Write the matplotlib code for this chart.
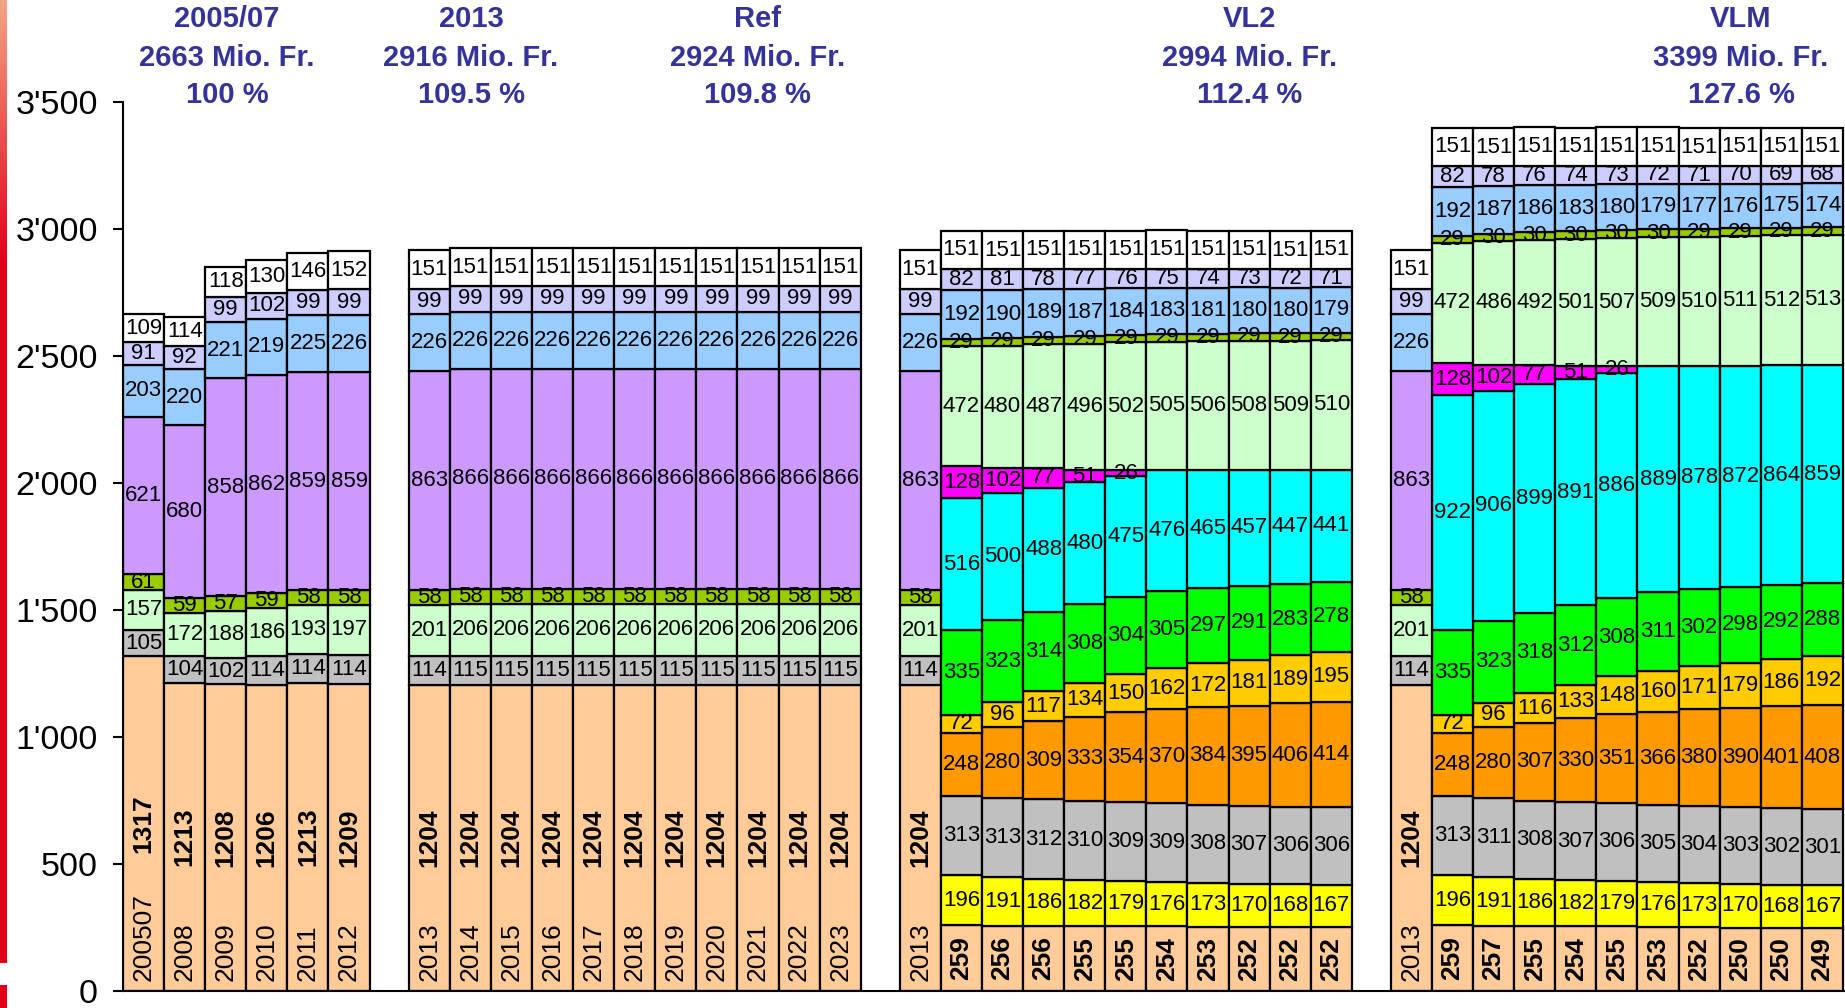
import matplotlib
matplotlib.use("Agg")
import matplotlib.pyplot as plt
import numpy as np

plt.rcParams["font.family"] = ["Liberation Sans", "DejaVu Sans"]

# stack order, bottom -> top
SERIES = ["peach", "yellow", "gray", "orange", "gold", "green", "cyan",
          "magenta", "lgreen", "olive", "purple", "lblue", "lavender", "white"]
COLORS = {
    "peach": "#FFCC99", "yellow": "#FFFF00", "gray": "#C0C0C0",
    "orange": "#FF9900", "gold": "#FFCC00", "green": "#00FF00",
    "cyan": "#00FFFF", "magenta": "#FF00FF", "lgreen": "#CCFFCC",
    "olive": "#99CC00", "purple": "#CC99FF", "lblue": "#99CCFF",
    "lavender": "#CCCCFF", "white": "#FFFFFF",
}

# --- 2005/07 .. 2012 ---
hist_years = ["200507", "2008", "2009", "2010", "2011", "2012"]
hist_peach = [1317, 1213, 1208, 1206, 1213, 1209]
hist_gray = [105, 104, 102, 114, 114, 114]
hist_lgreen = [157, 172, 188, 186, 193, 197]
hist_olive = [61, 59, 57, 59, 58, 58]
hist_purple = [621, 680, 858, 862, 859, 859]
hist_lblue = [203, 220, 221, 219, 225, 226]
hist_lavender = [91, 92, 99, 102, 99, 99]
hist_white = [109, 114, 118, 130, 146, 152]

# --- 2013 + Ref 2014 .. 2023 ---
ref_years = ["2013", "2014", "2015", "2016", "2017", "2018", "2019",
             "2020", "2021", "2022", "2023"]
ref_peach = [1204, 1204, 1204, 1204, 1204, 1204, 1204, 1204, 1204, 1204, 1204]
ref_gray = [114, 115, 115, 115, 115, 115, 115, 115, 115, 115, 115]
ref_lgreen = [201, 206, 206, 206, 206, 206, 206, 206, 206, 206, 206]
ref_olive = [58, 58, 58, 58, 58, 58, 58, 58, 58, 58, 58]
ref_purple = [863, 866, 866, 866, 866, 866, 866, 866, 866, 866, 866]
ref_lblue = [226, 226, 226, 226, 226, 226, 226, 226, 226, 226, 226]
ref_lavender = [99, 99, 99, 99, 99, 99, 99, 99, 99, 99, 99]
ref_white = [151, 151, 151, 151, 151, 151, 151, 151, 151, 151, 151]

# --- VL2 2014 .. 2023 ---
vl2_peach = [259, 256, 256, 255, 255, 254, 253, 252, 252, 252]
vl2_yellow = [196, 191, 186, 182, 179, 176, 173, 170, 168, 167]
vl2_gray = [313, 313, 312, 310, 309, 309, 308, 307, 306, 306]
vl2_orange = [248, 280, 309, 333, 354, 370, 384, 395, 406, 414]
vl2_gold = [72, 96, 117, 134, 150, 162, 172, 181, 189, 195]
vl2_green = [335, 323, 314, 308, 304, 305, 297, 291, 283, 278]
vl2_cyan = [516, 500, 488, 480, 475, 476, 465, 457, 447, 441]
vl2_magenta = [128, 102, 77, 51, 26, 0, 0, 0, 0, 0]
vl2_lgreen = [472, 480, 487, 496, 502, 505, 506, 508, 509, 510]
vl2_olive = [29, 29, 29, 29, 29, 29, 29, 29, 29, 29]
vl2_lblue = [192, 190, 189, 187, 184, 183, 181, 180, 180, 179]
vl2_lavender = [82, 81, 78, 77, 76, 75, 74, 73, 72, 71]
vl2_white = [151, 151, 151, 151, 151, 151, 151, 151, 151, 151]

# --- VLM 2014 .. 2023 ---
vlm_peach = [259, 257, 255, 254, 255, 253, 252, 250, 250, 249]
vlm_yellow = [196, 191, 186, 182, 179, 176, 173, 170, 168, 167]
vlm_gray = [313, 311, 308, 307, 306, 305, 304, 303, 302, 301]
vlm_orange = [248, 280, 307, 330, 351, 366, 380, 390, 401, 408]
vlm_gold = [72, 96, 116, 133, 148, 160, 171, 179, 186, 192]
vlm_green = [335, 323, 318, 312, 308, 311, 302, 298, 292, 288]
vlm_cyan = [922, 906, 899, 891, 886, 889, 878, 872, 864, 859]
vlm_magenta = [128, 102, 77, 51, 26, 0, 0, 0, 0, 0]
vlm_lgreen = [472, 486, 492, 501, 507, 509, 510, 511, 512, 513]
vlm_olive = [29, 30, 30, 30, 30, 30, 29, 29, 29, 29]
vlm_lblue = [192, 187, 186, 183, 180, 179, 177, 176, 175, 174]
vlm_lavender = [82, 78, 76, 74, 73, 72, 71, 70, 69, 68]
vlm_white = [151, 151, 151, 151, 151, 151, 151, 151, 151, 151]

group_names = ["2005/07", "2013", "Ref", "VL2", "VLM"]
group_totals = ["2663", "2916", "2924", "2994", "3399"]
group_pcts = ["100", "109.5", "109.8", "112.4", "127.6"]

hist = dict(peach=hist_peach, gray=hist_gray, lgreen=hist_lgreen,
            olive=hist_olive, purple=hist_purple, lblue=hist_lblue,
            lavender=hist_lavender, white=hist_white)
ref = dict(peach=ref_peach, gray=ref_gray, lgreen=ref_lgreen,
           olive=ref_olive, purple=ref_purple, lblue=ref_lblue,
           lavender=ref_lavender, white=ref_white)
vl2 = dict(peach=vl2_peach, yellow=vl2_yellow, gray=vl2_gray,
           orange=vl2_orange, gold=vl2_gold, green=vl2_green,
           cyan=vl2_cyan, magenta=vl2_magenta, lgreen=vl2_lgreen,
           olive=vl2_olive, lblue=vl2_lblue, lavender=vl2_lavender,
           white=vl2_white)
vlm = dict(peach=vlm_peach, yellow=vlm_yellow, gray=vlm_gray,
           orange=vlm_orange, gold=vlm_gold, green=vlm_green,
           cyan=vlm_cyan, magenta=vlm_magenta, lgreen=vlm_lgreen,
           olive=vlm_olive, lblue=vlm_lblue, lavender=vlm_lavender,
           white=vlm_white)

GAP = 0.95
bars = []  # (x_left, {series: value}, year label or None)


def add_bars(x0, cols, years):
    n = len(cols["peach"])
    for i in range(n):
        vals = {k: v[i] for k, v in cols.items()}
        bars.append((x0 + i, vals, years[i] if years else None))
    return x0 + n


def ref_2013():
    return {k: [v[0]] for k, v in ref.items()}


x = add_bars(0, hist, hist_years)
x = add_bars(x + GAP, ref, ref_years)
x = add_bars(x + GAP, ref_2013(), ["2013"])
x = add_bars(x, vl2, None)
x = add_bars(x + GAP, ref_2013(), ["2013"])
x_end = add_bars(x, vlm, None)

W, H = 1845, 1008
fig = plt.figure(figsize=(W / 100, H / 100), dpi=100)
ax = fig.add_axes([123 / W, 17 / H, 1722 / W, 889 / H])

xc = np.array([b[0] + 0.5 for b in bars])
bottom = np.zeros(len(bars))
for s in SERIES:
    h = np.array([b[1].get(s, 0) for b in bars], dtype=float)
    m = h > 0
    if m.any():
        ax.bar(xc[m], h[m], bottom=bottom[m], width=1.0, color=COLORS[s],
               edgecolor="black", linewidth=1.6, zorder=2)
    for i in np.where(m)[0]:
        yc = bottom[i] + h[i] / 2
        if s == "peach":
            ax.text(xc[i], yc, str(int(h[i])), rotation=90, ha="center",
                    va="center", fontsize=19, fontweight="bold", zorder=3)
        else:
            ax.text(xc[i], yc, str(int(h[i])), ha="center", va="center",
                    fontsize=16, zorder=3)
    bottom += h

for i, b in enumerate(bars):
    if b[2]:
        ax.text(xc[i], 40, b[2], rotation=90, ha="center", va="bottom",
                fontsize=19, zorder=3)

# group headers
title_x = [2.53, 8.47, 15.43, 27.42, 39.37]
for tx, name, tot, pct in zip(title_x, group_names, group_totals, group_pcts):
    for ty, txt in [(3828, name), (3674, f"{tot} Mio. Fr."), (3528, f"{pct} %")]:
        ax.text(tx, ty, txt, ha="center", va="center", fontsize=21,
                fontweight="bold", color="#333399", clip_on=False)

ax.set_xlim(0, 41.9)
ax.set_ylim(0, 3500)
ax.set_xticks([])
yt = list(range(0, 3501, 500))
ax.set_yticks(yt)
ax.set_yticklabels([f"{v:,}".replace(",", "'") for v in yt])
ax.tick_params(axis="y", length=7, width=1.5, pad=11, labelsize=24.5)
for sp in ["top", "right"]:
    ax.spines[sp].set_visible(False)
ax.spines["left"].set_linewidth(1.5)
ax.spines["bottom"].set_linewidth(1.5)

# red strip on left edge
strip = fig.add_axes([0, 0, 7 / W, 1])
rows = np.arange(H)
top_col = np.array([0.95, 0.65, 0.52])
red = np.array([0.89, 0.0, 0.10])
t = np.clip(rows / 260.0, 0, 1)[:, None]
img = top_col * (1 - t) + red * t
img[(rows > 962) & (rows < 985)] = 1.0
strip.imshow(img[:, None, :], aspect="auto", interpolation="bilinear")
strip.axis("off")

fig.savefig("out.png", dpi=100)
